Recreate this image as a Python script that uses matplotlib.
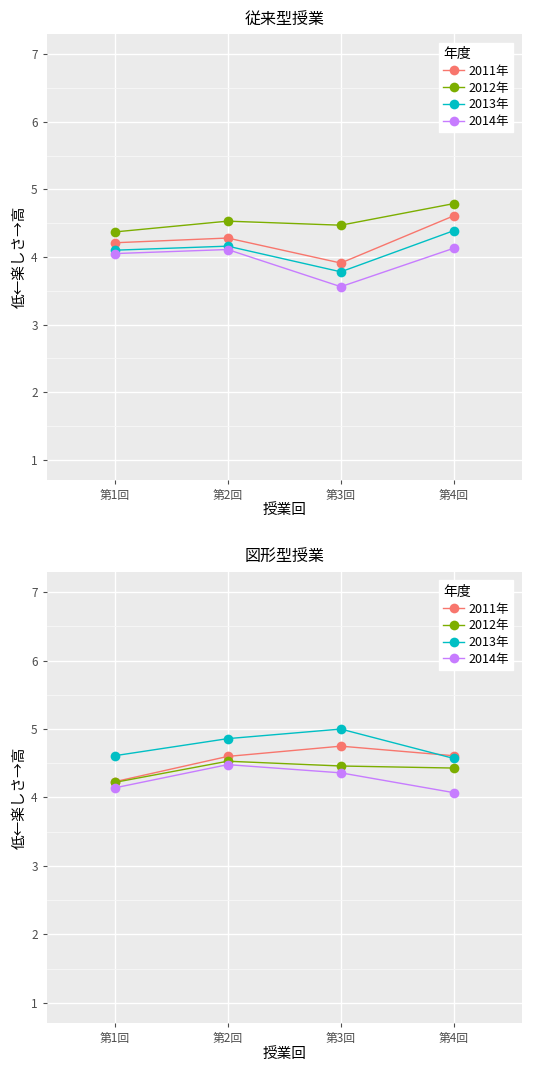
import matplotlib.pyplot as plt
from matplotlib.ticker import MultipleLocator

plt.rcParams['font.family'] = ['Noto Sans CJK JP', 'DejaVu Sans']

kaisuu = ['第1回', '第2回', '第3回', '第4回']
nendo = ['2011年', '2012年', '2013年', '2014年']
iro = ['#F8766D', '#7CAE00', '#00BFC4', '#C77CFF']

# 従来型授業
juurai = {
    '2011年': [4.21, 4.28, 3.91, 4.61],
    '2012年': [4.37, 4.53, 4.47, 4.79],
    '2013年': [4.10, 4.16, 3.78, 4.39],
    '2014年': [4.05, 4.11, 3.56, 4.13],
}
# 図形型授業
zukei = {
    '2011年': [4.23, 4.60, 4.75, 4.61],
    '2012年': [4.22, 4.53, 4.46, 4.43],
    '2013年': [4.61, 4.86, 5.00, 4.57],
    '2014年': [4.14, 4.48, 4.36, 4.07],
}


def graficar(ax, datos, titulo):
    ax.set_facecolor('#EBEBEB')
    x = range(len(kaisuu))
    for nen, c in zip(nendo, iro):
        ax.plot(x, datos[nen], color=c, lw=1, marker='o', ms=7,
                markeredgewidth=0, label=nen, zorder=3)
    ax.set_xlim(-0.6, 3.6)
    ax.set_ylim(0.7, 7.3)
    ax.set_xticks(list(x))
    ax.set_xticklabels(kaisuu)
    ax.yaxis.set_major_locator(MultipleLocator(1))
    ax.yaxis.set_minor_locator(MultipleLocator(0.5))
    ax.grid(which='major', color='white', lw=1.0)
    ax.grid(which='minor', axis='y', color='#F7F7F7', lw=0.6)
    ax.set_axisbelow(True)
    for s in ax.spines.values():
        s.set_visible(False)
    ax.tick_params(axis='both', which='major', colors='#4D4D4D',
                   labelsize=8.5, length=3, width=0.8)
    ax.tick_params(axis='y', which='minor', length=0)
    ax.set_title(titulo, fontsize=11.5, pad=7)
    ax.set_xlabel('授業回', fontsize=10.5, labelpad=1)
    ax.set_ylabel('低←楽しさ→高', fontsize=10.5, labelpad=3)
    leg = ax.legend(title='年度', loc='upper right', fontsize=9,
                    title_fontsize=10, frameon=True, fancybox=False,
                    borderpad=0.35, labelspacing=0.3, handlelength=1.7,
                    handletextpad=0.3, borderaxespad=0.7)
    leg.get_frame().set_edgecolor('white')
    leg.get_frame().set_facecolor('white')
    leg.get_frame().set_alpha(1)
    leg._legend_box.align = 'left'


fig = plt.figure(figsize=(5.33, 10.68), dpi=100)
ax1 = fig.add_axes([0.0876, 0.5506, 0.8914, 0.4176])
ax2 = fig.add_axes([0.0876, 0.0419, 0.8914, 0.4228])
graficar(ax1, juurai, '従来型授業')
graficar(ax2, zukei, '図形型授業')

fig.savefig('out.png', dpi=100)
